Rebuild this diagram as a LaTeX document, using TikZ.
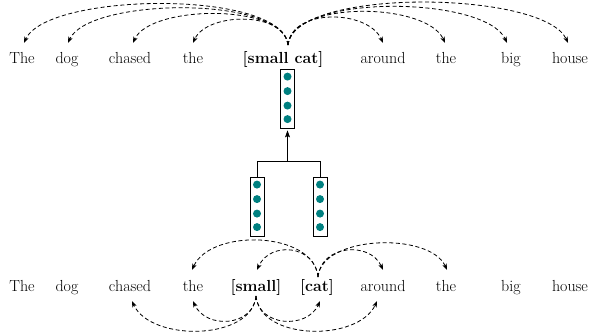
\documentclass[tikz,border=0pt]{standalone}
\usetikzlibrary{arrows.meta}
\definecolor{dotcol}{RGB}{0,128,128}
\tikzset{
  word/.style={font=\fontsize{16}{19}\selectfont, anchor=base, inner xsep=0pt, inner ysep=10pt, text height=11pt, text depth=0pt},
  dep/.style={draw=black, line width=0.8pt, dash pattern=on 4pt off 2.6pt, -{Stealth[length=6pt,width=4.6pt,inset=1.5pt]}},
  upl/.style={out=95, in=65, distance=#1},
  upr/.style={out=85, in=115, distance=#1},
  dnl/.style={out=-95, in=-65, distance=#1},
  dnr/.style={out=-85, in=-115, distance=#1},
  vecbox/.style={draw=black, line width=0.8pt, fill=white, minimum width=14pt, minimum height=59pt, inner sep=0pt},
  tree/.style={draw=black, line width=0.8pt},
}
\begin{document}
\begin{tikzpicture}[x=1pt,y=1pt]
\useasboundingbox (0,0) rectangle (591,-334);
% top row
\node[word] (t1) at (22,-64) {The};
\node[word] (t2) at (67,-64) {dog};
\node[word] (t3) at (130,-64) {chased};
\node[word] (t4) at (193,-64) {the};
\node[word] (t5) at (283,-64) {\textbf{[small cat]}};
\node[word] (t6) at (383,-64) {around};
\node[word] (t7) at (446,-64) {the};
\node[word] (t8) at (511,-64) {big};
\node[word] (t9) at (570,-64) {house};
% bottom row
\node[word] (b1) at (22,-291) {The};
\node[word] (b2) at (67,-291) {dog};
\node[word] (b3) at (130,-291) {chased};
\node[word] (b4) at (193,-291) {the};
\node[word] (b5) at (256,-291) {\textbf{[small]}};
\node[word] (b6) at (317,-291) {\textbf{[cat]}};
\node[word] (b7) at (383,-291) {around};
\node[word] (b8) at (446,-291) {the};
\node[word] (b9) at (511,-291) {big};
\node[word] (b10) at (570,-291) {house};
% vectors
\node[vecbox] (vt) at (287.5,-98.5) {};
\node[vecbox] (vl) at (257,-206.5) {};
\node[vecbox] (vr) at (320,-206.5) {};
\foreach \v in {vt,vl,vr}{
  \foreach \k in {8,22.5,37,50.5}{
    \fill[dotcol] ([yshift=-\k pt]\v.north) circle (4pt);
  }
}
\coordinate (jn) at (287.5,-161);
\draw[tree] (vl.north) |- (jn);
\draw[tree] (vr.north) |- (jn);
\draw[tree, -{Stealth[length=7pt,width=5pt,inset=1.5pt]}] (jn) -- ([yshift=-2pt]vt.south);
% top dependencies
\coordinate (sT) at (288,-45);
\draw[dep] (sT) to[upl=56] ([xshift=2pt]t1.north);
\draw[dep] (sT) to[upl=50] ([xshift=1pt]t2.north);
\draw[dep] (sT) to[upl=42] ([xshift=3pt]t3.north);
\draw[dep] (sT) to[upl=34] (t4.north);
\draw[dep] (sT) to[upr=37] (t6.north);
\draw[dep] (sT) to[upr=45] ([xshift=-1pt]t7.north);
\draw[dep] (sT) to[upr=52] ([xshift=-4pt]t8.north);
\draw[dep] (sT) to[upr=58] ([xshift=-2pt]t9.north);
% bottom dependencies from [cat]
\coordinate (sC) at (318,-277);
\draw[dep] (sC) to[upl=46] ([xshift=-1pt]b4.north);
\draw[dep] (sC) to[upl=32] ([xshift=1pt]b5.north);
\draw[dep] (sC) to[upr=32] (b7.north);
\draw[dep] (sC) to[upr=42] ([xshift=1pt]b8.north);
% bottom dependencies from [small]
\coordinate (sS) at (256,-296);
\draw[dep] (sS) to[dnl=45] ([xshift=2pt]b3.south);
\draw[dep] (sS) to[dnl=31] (b4.south);
\draw[dep] (sS) to[dnr=31] ([xshift=3pt]b6.south);
\draw[dep] (sS) to[dnr=45] ([xshift=-6pt]b7.south);
\end{tikzpicture}
\end{document}
